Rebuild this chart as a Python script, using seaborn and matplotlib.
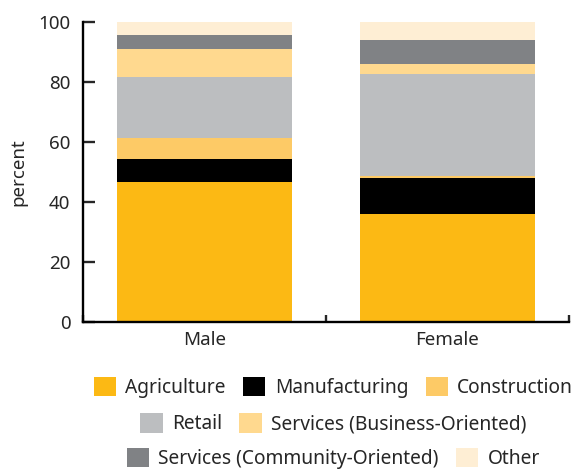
import numpy as np
import pandas as pd
import matplotlib
matplotlib.use("Agg")
import matplotlib.pyplot as plt
import seaborn as sns
from matplotlib.patches import Patch

# values (percent of employed, by sex)
groups = ["Male", "Female"]
sectors = ["Agriculture", "Manufacturing", "Construction", "Retail",
           "Services (Business-Oriented)", "Services (Community-Oriented)", "Other"]
male = [46.7, 7.5, 7.1, 20.3, 9.3, 4.8, 4.3]
female = [35.8, 12.0, 0.9, 34.0, 3.2, 8.1, 6.0]
colors = ["#FCB914", "#000000", "#FDCA66", "#BCBEC0", "#FFD98F", "#808285", "#FEEED4"]

sns.set_style("ticks")
plt.rcParams["font.family"] = ["Noto Sans", "DejaVu Sans"]

df = pd.DataFrame({"sector": np.repeat(sectors, 2),
                   "group": groups * len(sectors),
                   "value": [v for pair in zip(male, female) for v in pair]})

fig = plt.figure(figsize=(5.82, 4.71), dpi=100)
ax = fig.add_axes([0.1426, 0.317, 0.835, 0.637])

bottom = np.zeros(len(groups))
for sec, col in zip(sectors, colors):
    vals = df.loc[df.sector == sec, "value"].to_numpy()
    sns.barplot(x=groups, y=vals, bottom=bottom, color=col, width=0.72,
                ax=ax, saturation=1, edgecolor="none", linewidth=0)
    bottom += vals

ax.set_xlim(-0.5, 1.5)
ax.set_ylim(0, 100)
ax.set_yticks([0, 20, 40, 60, 80, 100])
ax.set_ylabel("percent", fontsize=13.5, labelpad=8)
ax.set_xlabel("")
ax.set_xticks([-0.5, 0.5, 1.5], minor=True)
ax.tick_params(axis="x", which="major", length=0, pad=7, labelsize=13.5)
ax.tick_params(axis="x", which="minor", direction="in", length=5, width=1.7)
ax.tick_params(axis="y", direction="in", length=8.5, width=1.7, pad=9, labelsize=13.5)
sns.despine(ax=ax)
for s in ["left", "bottom"]:
    ax.spines[s].set_linewidth(1.7)
    ax.spines[s].set_color("black")

handles = [Patch(facecolor=c, edgecolor="none", label=s) for s, c in zip(sectors, colors)]
rows = [(handles[0:3], 0.177), (handles[3:5], 0.0998), (handles[5:7], 0.027)]
for hs, yc in rows:
    fig.legend(handles=hs, loc="center", bbox_to_anchor=(0.573, yc), ncol=len(hs),
               frameon=False, fontsize=13.8, handlelength=1.15, handleheight=1.15,
               handletextpad=0.5, columnspacing=0.9, borderpad=0, borderaxespad=0)

fig.savefig("out.png", dpi=100)
